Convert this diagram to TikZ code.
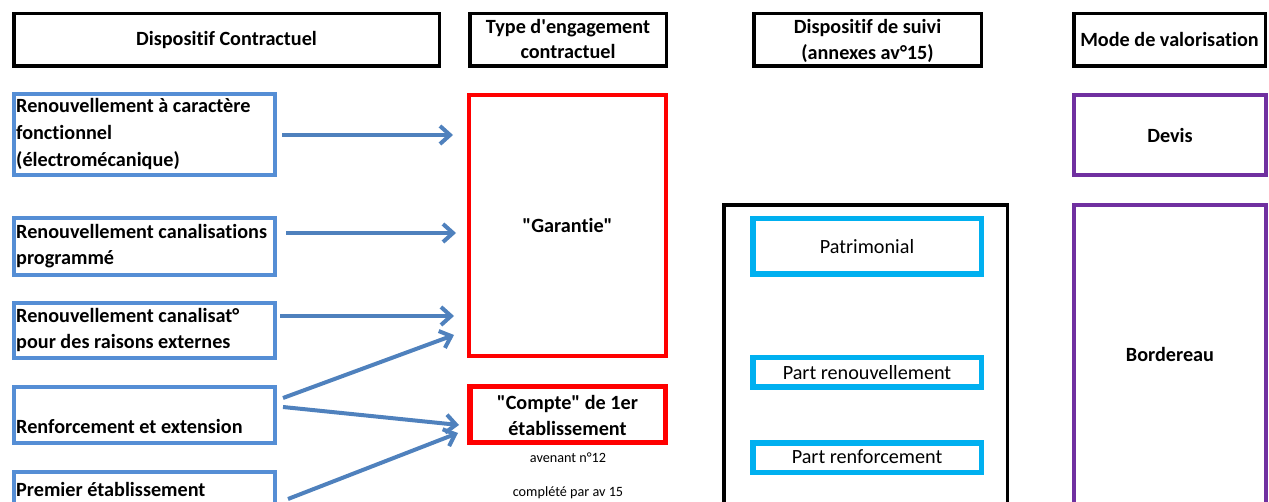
\documentclass[tikz,border=0pt]{standalone}
\usepackage{fontspec}
\setmainfont{Carlito}[Ligatures={TeXOff,NoCommon}]
\usetikzlibrary{arrows.meta}
\definecolor{boxblue}{RGB}{85,142,213}
\definecolor{arrblue}{RGB}{79,129,189}
\definecolor{cyanb}{RGB}{0,176,240}
\definecolor{purp}{RGB}{112,48,160}
\definecolor{redb}{RGB}{255,0,0}
\begin{document}
\begin{tikzpicture}[x=1pt,y=-1pt,
  frame/.style={draw, rectangle, inner sep=0pt, outer sep=0pt},
  hdr/.style={frame, draw=black, line width=3.5pt},
  bluebox/.style={frame, draw=boxblue, line width=4pt},
  redbox/.style={frame, draw=redb, line width=4pt},
  redthick/.style={frame, draw=redb, line width=5.5pt},
  blackbox/.style={frame, draw=black, line width=3.5pt},
  cyanbox/.style={frame, draw=cyanb, line width=5.5pt},
  purpbox/.style={frame, draw=purp, line width=4pt},
  lb/.style={font=\fontsize{20.2}{24}\selectfont\bfseries, inner sep=0pt, anchor=base},
  lbw/.style={lb, anchor=base west},
  lr/.style={font=\fontsize{20.2}{24}\selectfont, inner sep=0pt, anchor=base},
  ls/.style={font=\fontsize{14.2}{17}\selectfont, inner sep=0pt, anchor=base},
  arr/.style={draw=arrblue, line width=4pt, -{Straight Barb[length=10pt,width=18pt]}}
]
\useasboundingbox (0,0) rectangle (1269,502);
\clip (0,0) rectangle (1269,502);

% headers
\node[hdr, minimum width=425.5pt, minimum height=52.5pt] (h1) at (226.5,40) {};
\node[hdr, minimum width=196.5pt, minimum height=52.5pt] (h2) at (568,40) {};
\node[hdr, minimum width=227.5pt, minimum height=52.5pt] (h3) at (867.5,40) {};
\node[hdr, minimum width=191.5pt, minimum height=52.5pt] (h4) at (1169.5,40) {};
\node[lb] (h1t) at (226.5,45.5) {Dispositif Contractuel};
\node[lb] (h2t1) at (568,33.5) {Type d'engagement};
\node[lb] (h2t2) at (568,58.5) {contractuel};
\node[lb] (h3t1) at (867.5,33.5) {Dispositif de suivi};
\node[lb] (h3t2) at (867.5,59.5) {(annexes av°15)};
\node[lb] (h4t) at (1169.5,46.5) {Mode de valorisation};

% left column
\node[bluebox, minimum width=261pt, minimum height=81pt] (A) at (144.5,134.5) {};
\node[bluebox, minimum width=261pt, minimum height=57pt] (B) at (144.5,246.5) {};
\node[bluebox, minimum width=261pt, minimum height=55pt] (C) at (144.5,330.5) {};
\node[bluebox, minimum width=261pt, minimum height=56pt] (D) at (144.5,415) {};
\node[bluebox, minimum width=261pt, minimum height=88pt] (E) at (144.5,516) {};
\node[lbw] (At1) at (16,112.5) {Renouvellement à caractère};
\node[lbw] (At2) at (16,139.5) {fonctionnel};
\node[lbw] (At3) at (16,166.5) {(électromécanique)};
\node[lbw] (Bt1) at (16,238.5) {Renouvellement canalisations};
\node[lbw] (Bt2) at (16,264.5) {programmé};
\node[lbw] (Ct1) at (16,322.5) {Renouvellement canalisat°};
\node[lbw] (Ct2) at (16,348.5) {pour des raisons externes};
\node[lbw] (Dt) at (16,433.5) {Renforcement et extension};
\node[lbw] (Et) at (16,496.5) {Premier établissement};

% engagement column
\node[redbox, minimum width=197pt, minimum height=261pt] (G) at (567.5,225.5) {};
\node[redthick, minimum width=195.5pt, minimum height=55.5pt] (K) at (567.5,414.5) {};
\node[lb] (Gt) at (567.5,232.5) {"Garantie"};
\node[lb] (Kt1) at (567.5,409.5) {"Compte" de 1er};
\node[lb] (Kt2) at (567.5,435.5) {établissement};
\node[ls] (av12) at (568,462.5) {avenant n°12};
\node[ls] (av15) at (568,496.5) {complété par av 15};

% suivi column
\node[blackbox, minimum width=283.5pt, minimum height=355pt] (S) at (865.5,382.5) {};
\node[cyanbox, minimum width=228.5pt, minimum height=55.5pt] (P1) at (867,246.5) {};
\node[cyanbox, minimum width=228.5pt, minimum height=29.5pt] (P2) at (867,372.5) {};
\node[cyanbox, minimum width=228.5pt, minimum height=29.5pt] (P3) at (867,457.5) {};
\node[lr] (P1t) at (867,253.5) {Patrimonial};
\node[lr] (P2t) at (867,379.5) {Part renouvellement};
\node[lr] (P3t) at (867,463.5) {Part renforcement};

% valorisation column
\node[purpbox, minimum width=192pt, minimum height=80pt] (V1) at (1170,135) {};
\node[purpbox, minimum width=192pt, minimum height=355pt] (V2) at (1170,382.5) {};
\node[lb] (V1t) at (1170,142.5) {Devis};
\node[lb] (V2t) at (1170,361.5) {Bordereau};

% arrows
\coordinate (a1s) at (282,135); \coordinate (a1e) at (453,135);
\coordinate (a2s) at (286,233); \coordinate (a2e) at (456,233);
\coordinate (a3s) at (280,316); \coordinate (a3e) at (454,316);
\coordinate (a4s) at (283,398); \coordinate (a4e) at (454,335);
\coordinate (a5s) at (283,407); \coordinate (a5e) at (459,425);
\coordinate (a6s) at (288,499); \coordinate (a6e) at (458,433);
\draw[arr] (a1s) -- (a1e);
\draw[arr] (a2s) -- (a2e);
\draw[arr] (a3s) -- (a3e);
\draw[arr] (a4s) -- (a4e);
\draw[arr] (a5s) -- (a5e);
\draw[arr] (a6s) -- (a6e);
\end{tikzpicture}
\end{document}
